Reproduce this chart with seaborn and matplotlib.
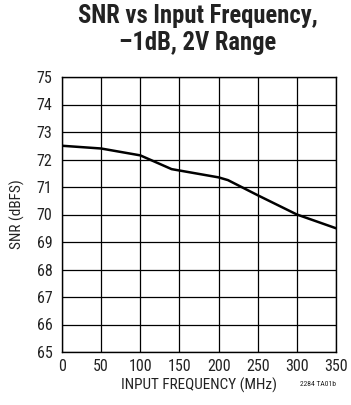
import numpy as np
import pandas as pd
import seaborn as sns
import matplotlib.pyplot as plt
from matplotlib import font_manager

# values
freq_mhz = [0, 50, 100, 140, 200, 212, 250, 300, 350]
snr_dbfs = [72.5, 72.4, 72.15, 71.65, 71.35, 71.25, 70.7, 70.0, 69.5]
x_ticks = [0, 50, 100, 150, 200, 250, 300, 350]
y_ticks = list(range(65, 76))
title_lines = ["SNR vs Input Frequency,", "\u20131dB, 2V Range"]

df = pd.DataFrame({"freq": freq_mhz, "snr": snr_dbfs})

# pick the narrowest installed family
installed = {f.name for f in font_manager.fontManager.ttflist}
family = "DejaVu Sans"
for name in ["Roboto Condensed", "Liberation Sans Narrow", "DejaVu Sans Condensed",
             "Open Sans Condensed", "Roboto", "Liberation Sans"]:
    if name in installed:
        family = name
        break

sns.set_style("white")
plt.rcParams['font.family'] = [family, 'DejaVu Sans']

fig = plt.figure(figsize=(3.51, 4.05), dpi=100)
ax = fig.add_axes([62/351, 1-352/405, 274/351, 275/405])

sns.lineplot(data=df, x="freq", y="snr", ax=ax, color="black", linewidth=1.8)

ax.set_xlim(0, 350)
ax.set_ylim(65, 75)
ax.set_xticks(x_ticks)
ax.set_yticks(y_ticks)
ax.grid(True, color="black", linewidth=0.9)
ax.tick_params(length=0, labelsize=11.5, colors="#222222")
ax.tick_params(axis="y", pad=7)
ax.tick_params(axis="x", pad=5)
for s in ax.spines.values():
    s.set_color("black")
    s.set_linewidth(1.0)

ax.set_xlabel("INPUT FREQUENCY (MHz)", size=11, color="#222222", labelpad=3)
ax.set_ylabel("SNR (dBFS)", size=11, color="#222222", labelpad=8)

# two title lines placed on the reference baselines, centred over the plot
t1 = fig.text(198/351, 1-23/405, title_lines[0], ha="center", va="baseline",
              size=18, weight="bold", color="#222222")
t2 = fig.text(198/351, 1-50/405, title_lines[1], ha="center", va="baseline",
              size=18, weight="bold", color="#222222")
fig.text(336/351, 1-384/405, "2284 TA01b", ha="right", va="center", size=5.5, color="#222222")

# scale the title so the first line is about 240 px wide
fig.canvas.draw()
r = fig.canvas.get_renderer()
w = t1.get_window_extent(r).width
for t in (t1, t2):
    t.set_size(18 * 240 / w)

fig.savefig("out.png", dpi=100)
